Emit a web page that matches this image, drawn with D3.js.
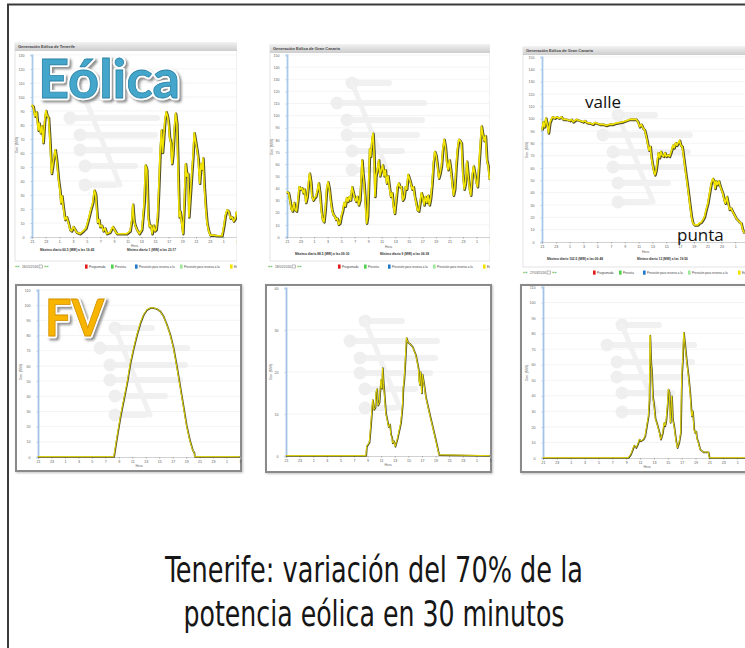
<!DOCTYPE html>
<html><head><meta charset="utf-8">
<script src="https://cdn.jsdelivr.net/npm/d3@7"></script>
<style>html,body{margin:0;padding:0;background:#fff;}svg{display:block;}</style>
</head><body>
<svg id="c" width="745" height="648"></svg>
<script>
// ---------------- DATA ----------------
// hours since 21:00 of the previous day -> clock labels
const hourTickValues = [0,2,4,6,8,10,12,14,16,18,20,22,24,26,28,30];
const hourLabels = ["21","23","1","3","5","7","9","11","13","15","17","19","21","23","1","3"];
const ticks130 = [0,10,20,30,40,50,60,70,80,90,100,110,120,130];
const ticks150 = [0,10,20,30,40,50,60,70,80,90,100,110,120,130,140,150];
const ticks110 = [0,10,20,30,40,50,60,70,80,90,100,110];
const ticks40 = [0,10,20,30,40];
const legendLabels = ["Programada","Prevista","Previsión para reserva a la","Previsión para reserva a la","Eólica real"];
const legendColors = ["#e31a1c","#4fd14f","#1f78c8","#9ee89e","#f3e400"];
const topTitles = ["Generación Eólica de Tenerife","Generación Eólica de Gran Canaria","Generación Eólica de Gran Canaria"];
const topDates = ["26/01/2016","18/01/2016","27/03/2016"];
const maxTexts = [["Máximo diario 60.5 (MW) a las 16:45","Mínimo diario 1 (MW) a las 23:17"],
                  ["Máximo diario 88.5 (MW) a las 09:30","Mínimo diario 9 (MW) a las 06:38"],
                  ["Máximo diario 102.5 (MW) a las 00:48","Mínimo diario 12 (MW) a las 19:56"]];

// wind, Tenerife [hour, MW]
const tenerifeWind = [[0,94],[0.24,93],[0.49,86],[0.73,89],[0.98,76],[1.12,81],[1.32,74],[1.52,79],[1.71,67],[1.91,82],[2.10,90],[2.30,86],[2.49,85],[2.69,69],[2.93,45],[3.08,50],[3.28,57],[3.47,62],[3.67,55],[3.81,48],[3.96,40],[4.16,33],[4.30,24],[4.45,29],[4.65,21],[4.89,12],[5.13,14],[5.38,10],[5.62,5],[5.87,4],[6.11,7],[6.36,5],[6.60,3],[7.09,2],[7.58,4],[7.97,6],[8.31,12],[8.66,19],[8.95,24],[9.19,33],[9.39,30],[9.54,19],[9.68,10],[9.88,12],[10.02,7],[10.27,8],[10.51,4],[10.76,6],[11.00,2],[11.49,3],[11.88,7],[12.13,5],[12.47,2],[12.96,2],[13.45,2],[13.94,2],[14.43,4],[14.67,12],[14.82,23],[15.01,11],[15.16,8],[15.40,5],[15.79,2],[16.14,5],[16.48,24],[16.67,51],[16.87,48],[17.07,14],[17.26,7],[17.46,8],[17.65,2],[17.85,8],[18.04,4],[18.24,5],[18.44,14],[18.63,36],[18.83,62],[19.02,76],[19.17,60],[19.32,69],[19.51,83],[19.71,89],[19.90,86],[20.05,81],[20.20,71],[20.39,67],[20.54,52],[20.68,58],[20.88,76],[21.08,88],[21.27,81],[21.47,43],[21.61,14],[21.76,18],[21.96,10],[22.15,2],[22.35,24],[22.54,52],[22.74,43],[22.89,45],[23.03,14],[23.23,29],[23.42,43],[23.62,57],[23.81,74],[24.01,68],[24.21,62],[24.40,55],[24.60,38],[24.79,52],[24.94,48],[25.09,56],[25.28,36],[25.48,21],[25.67,10],[25.92,4],[26.16,1],[26.65,1],[27.14,0.5],[27.87,0.5],[28.12,7],[28.36,15],[28.61,19],[28.85,18],[29.10,13],[29.34,14],[29.58,11],[29.83,13],[30,18]];
// wind, Gran Canaria
const granCanariaWind = [[0,37],[0.30,36],[0.49,30],[0.69,23],[0.89,21],[1.09,28],[1.28,22],[1.48,21],[1.68,30],[1.87,41],[2.07,39],[2.27,40],[2.47,36],[2.66,39],[2.86,28],[3.06,33],[3.26,45],[3.40,52],[3.60,45],[3.75,33],[3.95,30],[4.14,32],[4.34,33],[4.59,39],[4.74,44],[4.93,36],[5.13,22],[5.33,14],[5.53,12],[5.72,22],[5.92,39],[6.12,45],[6.31,40],[6.51,30],[6.71,22],[6.91,18],[7.10,17],[7.30,14],[7.50,15],[7.70,10],[7.89,11],[8.09,17],[8.29,21],[8.49,28],[8.68,25],[8.88,32],[9.08,29],[9.27,33],[9.47,30],[9.67,41],[9.87,36],[10.06,32],[10.26,29],[10.46,33],[10.66,26],[10.85,30],[11.05,50],[11.15,63],[11.30,52],[11.45,44],[11.64,28],[11.84,11],[11.99,17],[12.14,44],[12.28,72],[12.43,66],[12.63,80],[12.78,85],[12.93,69],[13.07,33],[13.22,50],[13.42,55],[13.62,63],[13.81,50],[14.01,55],[14.21,59],[14.41,50],[14.60,55],[14.80,44],[15.00,50],[15.19,41],[15.39,33],[15.59,36],[15.79,25],[15.98,19],[16.18,30],[16.38,41],[16.58,44],[16.77,41],[16.97,41],[17.17,30],[17.37,32],[17.56,41],[17.76,39],[17.96,51],[18.15,48],[18.35,44],[18.55,39],[18.75,41],[18.94,33],[19.14,28],[19.34,22],[19.54,21],[19.73,28],[19.93,36],[20.13,32],[20.33,26],[20.52,33],[20.72,28],[20.92,34],[21.11,26],[21.31,32],[21.51,44],[21.71,61],[21.90,70],[22.10,67],[22.30,58],[22.50,48],[22.69,52],[22.89,58],[23.09,72],[23.29,80],[23.48,74],[23.68,61],[23.88,55],[24.07,63],[24.27,55],[24.47,44],[24.67,34],[24.86,39],[25.06,58],[25.26,72],[25.46,80],[25.65,79],[25.85,77],[26.05,52],[26.25,39],[26.44,44],[26.64,62],[26.84,50],[27.04,39],[27.23,34],[27.43,50],[27.63,58],[27.82,52],[28.02,45],[28.22,41],[28.42,58],[28.61,74],[28.81,91],[29.01,84],[29.21,79],[29.40,83],[29.60,63],[29.80,58],[30,47]];
// wind, valle / punta day
const valleWind = [[0.10,90.5],[0.24,97],[0.43,93],[0.63,100],[0.82,95],[1.01,88],[1.20,96],[1.40,99],[1.59,101],[1.93,100],[2.17,101],[2.55,100],[2.89,101],[3.13,99],[3.61,99],[4.10,98],[4.35,99],[4.58,97],[5.06,99],[5.54,98],[6.02,97],[6.27,98],[6.51,96.5],[6.99,96],[7.47,95],[7.70,96.5],[7.95,96],[8.43,95],[8.92,95],[9.40,94],[9.88,95],[10.36,95],[10.84,96],[11.33,96.5],[11.81,97],[12.29,98],[12.77,99],[13.25,99],[13.73,99],[13.98,97],[14.22,93],[14.46,95],[14.70,92],[14.94,90.5],[15.18,85],[15.42,78],[15.57,74],[15.76,77],[15.90,69],[16.05,63.5],[16.24,58],[16.43,54],[16.58,57],[16.77,65],[16.92,72],[17.11,68],[17.30,73],[17.49,70],[17.69,69],[17.88,72],[18.07,69],[18.31,70],[18.55,69],[18.80,73],[19.04,78],[19.23,76],[19.42,80],[19.61,78],[19.81,80],[20.00,82],[20.19,78],[20.39,77],[20.58,69],[20.77,61],[20.96,53],[21.16,45],[21.35,36.5],[21.54,28],[21.73,20],[21.93,15],[22.17,13.5],[22.41,13.5],[22.65,13.5],[22.89,15],[23.13,15.5],[23.37,17.5],[23.61,20],[23.86,26],[24.10,31],[24.34,39],[24.58,47],[24.82,51],[25.01,49],[25.16,43],[25.30,49],[25.49,46],[25.69,49],[25.88,45],[26.07,42],[26.27,39],[26.46,34],[26.65,31],[26.84,36.5],[27.04,31],[27.23,26],[27.47,27],[27.71,24],[27.95,21.5],[28.19,19],[28.43,17.5],[28.67,16],[28.92,15],[29.16,9.5],[29.40,7]];
// photovoltaic
const tenerifeFV = [[0,0],[11.30,0],[11.79,13.6],[12.29,26.8],[12.78,37.7],[13.27,48.7],[13.76,61.8],[14.25,71.7],[14.74,80.5],[15.23,88.0],[15.72,93.6],[16.22,96.9],[16.71,98.0],[17.20,98.0],[17.69,97.4],[18.18,95.8],[18.67,92.5],[19.16,87.1],[19.66,80.5],[20.15,71.7],[20.64,59.6],[21.13,46.5],[21.62,33.3],[22.11,20.2],[22.60,10.5],[23.00,4.4],[23.24,2.6],[23.30,0],[30,0]];
const granCanariaFV = [[0,0],[11.80,0],[11.90,2.2],[12.29,3.2],[12.39,5],[12.54,7.9],[12.78,13.3],[12.98,11],[13.17,11.5],[13.27,15],[13.41,15.9],[13.56,12],[13.76,12.7],[13.90,16],[14.00,18.1],[14.15,16],[14.24,20.9],[14.39,17],[14.49,14.9],[14.73,10],[14.93,8.5],[15.12,6.9],[15.32,7.5],[15.46,5],[15.61,4.5],[15.71,3],[15.90,3.5],[16.10,2.2],[16.44,4.2],[16.93,7.9],[17.17,12],[17.27,16.1],[17.41,18],[17.56,22.1],[17.76,28.1],[17.95,27],[18.15,26.8],[18.63,26],[19.12,24],[19.37,22],[19.51,20.8],[19.61,18],[19.71,16.9],[19.80,20],[19.90,18],[20.00,14.9],[20.10,19.4],[20.34,17],[20.59,14],[21.32,8.8],[22.05,3.8],[22.54,0.2],[30,0]];
const thirdFV = [[0,0],[12.36,0],[12.69,2.1],[12.98,5.4],[13.17,7.9],[13.46,6.4],[13.70,8.6],[13.94,11.8],[14.13,10.7],[14.52,11.8],[14.76,13.9],[15.00,20.4],[15.24,26.8],[15.38,37.5],[15.48,78.7],[15.63,60],[15.72,56.9],[15.87,39.7],[16.06,33.3],[16.25,25],[16.44,22.5],[16.83,16.1],[17.02,11.8],[17.31,16.1],[17.50,22.5],[17.64,20.4],[17.79,23.6],[17.98,33.3],[18.12,44],[18.27,41.8],[18.41,22.5],[18.61,39.7],[18.75,24.7],[18.94,20.4],[19.23,10.7],[19.42,6.4],[19.66,9.7],[19.90,16.1],[20.05,52.6],[20.19,63.3],[20.34,80.5],[20.53,72.3],[20.77,61.6],[21.01,52.8],[21.25,41.8],[21.49,26.8],[21.63,30],[21.83,18.2],[21.97,16.1],[22.12,17],[22.21,12.9],[22.45,9.7],[22.69,5.4],[23.17,3.6],[23.89,3.6],[24.04,0],[30,0]];

// ---------------- LAYOUT ----------------
const topPanels = [
  {box:[15,43,222,218], left:32, right:237, top:55, bottom:237, yMax:130, yTicks:ticks130, data:tenerifeWind, legendX:15, legendY:267, maxX:[40,127], maxY:251, horaY:247, wm:[110,140], ylab:[18,145]},
  {box:[270,45,220,216], left:287, right:490, top:55, bottom:237, yMax:150, yTicks:ticks150, data:granCanariaWind, legendX:268, legendY:267, maxX:[295,380], maxY:255, horaY:248, wm:[377,125], ylab:[273,147]},
  {box:[523,47,232,220], left:542, right:749, top:57, bottom:242, yMax:150, yTicks:ticks150, data:valleWind, legendX:523, legendY:273, maxX:[547,637], maxY:260, horaY:253, wm:[643,157], ylab:[528,150]}
];
const botPanels = [
  {box:[16,285,225,186], left:38, right:240, top:290, bottom:457, yMax:110, yTicks:ticks110, data:tenerifeFV, horaY:467, wm:[140,370], ylab:[22,372]},
  {box:[266,285,225,187], left:286, right:490, top:288, bottom:456, yMax:40, yTicks:ticks40, data:granCanariaFV, horaY:466, wm:[390,363], ylab:[272,372]},
  {box:[521,285,234,187], left:543, right:751, top:287, bottom:458, yMax:110, yTicks:ticks110, data:thirdFV, horaY:468, wm:[647,367], ylab:[528,373]}
];

const svg = d3.select('#c');
const defs = svg.append('defs');
const grad = defs.append('linearGradient').attr('id','hdr').attr('x1',0).attr('y1',0).attr('x2',0).attr('y2',1);
grad.append('stop').attr('offset','0%').attr('stop-color','#eeeeee');
grad.append('stop').attr('offset','100%').attr('stop-color','#cdcdcd');
const flt = defs.append('filter').attr('id','shadow').attr('x','-20%').attr('y','-20%').attr('width','150%').attr('height','150%');
flt.append('feDropShadow').attr('dx',2.2).attr('dy',2.2).attr('stdDeviation',1.3).attr('flood-color','#555').attr('flood-opacity',0.65);
const bflt = defs.append('filter').attr('id','bshadow').attr('x','-5%').attr('y','-5%').attr('width','110%').attr('height','110%');
bflt.append('feDropShadow').attr('dx',1).attr('dy',1).attr('stdDeviation',0.8).attr('flood-color','#999').attr('flood-opacity',0.6);

const tiny = "Liberation Sans, Arial, sans-serif";

function watermark(g, cx, cy){
  const w = g.append('g').attr('transform',`translate(${cx},${cy})`).attr('opacity',0.55);
  const bars = [[-25,-42,12],[-40,-22,47],[-30,-5,45],[-30,10,40],[-25,26,25],[-25,45,5]];
  bars.forEach(b=>{
    w.append('line').attr('x1',b[0]).attr('y1',b[1]).attr('x2',b[2]).attr('y2',b[1]).attr('stroke','#e6e6e6').attr('stroke-width',6).attr('stroke-linecap','round');
    w.append('circle').attr('cx',b[0]).attr('cy',b[1]).attr('r',6.5).attr('fill','#e2e2e2');
  });
  w.append('line').attr('x1',-25).attr('y1',-42).attr('x2',10).attr('y2',45).attr('stroke','#e6e6e6').attr('stroke-width',5).attr('stroke-linecap','round');
}

function series(g, data, x, y, wd, wl, off){
  const line = d3.line().x(d=>x(d[0])).y(d=>y(d[1]));
  g.append('path').datum(data).attr('d',line).attr('fill','none').attr('stroke','#3c3a12').attr('stroke-width',wd).attr('stroke-linejoin','round').attr('opacity',0.9);
  g.append('path').datum(data).attr('d',line).attr('fill','none').attr('stroke','#f2e400').attr('stroke-width',wl).attr('stroke-linejoin','round').attr('transform',`translate(${-off},${-off})`);
}

function axes(g, p, x, y, blue){
  g.append('g').selectAll('line').data(p.yTicks.slice(1)).join('line')
    .attr('x1',p.left).attr('x2',p.right).attr('y1',d=>y(d)).attr('y2',d=>y(d))
    .attr('stroke','#ececec').attr('stroke-width',0.6);
  const ya = g.append('g').attr('transform',`translate(${p.left},0)`)
    .call(d3.axisLeft(y).tickValues(p.yTicks).tickSize(1.5).tickPadding(6));
  ya.select('.domain').attr('stroke',blue).attr('stroke-width',1.8);
  ya.selectAll('.tick line').attr('stroke','#b8cfe8');
  ya.selectAll('text').attr('font-size','3.6px').attr('font-family',tiny).attr('fill','#666');
  const xa = g.append('g').attr('transform',`translate(0,${p.bottom})`)
    .call(d3.axisBottom(x).tickValues(hourTickValues).tickFormat((d,i)=>hourLabels[i]).tickSize(1.5).tickPadding(2));
  xa.select('.domain').attr('stroke','#c7c7c7').attr('stroke-width',0.8);
  xa.selectAll('.tick line').attr('stroke','#aaa');
  xa.selectAll('text').attr('font-size','3.6px').attr('font-family',tiny).attr('fill','#555');
  g.append('text').attr('x',(p.left+p.right)/2).attr('y',p.horaY).attr('text-anchor','middle')
    .attr('font-size','3.3px').attr('font-family',tiny).attr('fill','#666').text('Hora');
  g.append('text').attr('transform',`translate(${p.ylab[0]},${p.ylab[1]}) rotate(-90)`).attr('text-anchor','middle')
    .attr('font-size','3.3px').attr('font-family',tiny).attr('fill','#666').text('Gen. (MW)');
}

// frame
svg.append('rect').attr('x',8).attr('y',4.5).attr('width',770).attr('height',680)
  .attr('fill','none').attr('stroke','#3a3a3a').attr('stroke-width',2);

// top panels
topPanels.forEach((p,i)=>{
  const cid = 'clipTop'+i;
  defs.append('clipPath').attr('id',cid).append('rect').attr('x',p.box[0]-3).attr('y',p.box[1]-3).attr('width',p.box[2]+3).attr('height',245);
  const g = svg.append('g').attr('clip-path',`url(#${cid})`);
  g.append('rect').attr('x',p.box[0]).attr('y',p.box[1]).attr('width',p.box[2]).attr('height',p.box[3])
    .attr('fill','#fff').attr('stroke','#dcdcdc').attr('stroke-width',0.8);
  g.append('rect').attr('x',p.box[0]).attr('y',p.box[1]).attr('width',p.box[2]).attr('height',8).attr('fill','url(#hdr)');
  g.append('text').attr('x',p.box[0]+3).attr('y',p.box[1]+5.4).attr('font-size','4px').attr('font-weight','bold')
    .attr('font-family',tiny).attr('fill','#444').text(topTitles[i]);
  const x = d3.scaleLinear().domain([0,30]).range([p.left,p.right]);
  const y = d3.scaleLinear().domain([0,p.yMax]).range([p.bottom,p.top]);
  watermark(g, p.wm[0], p.wm[1]);
  axes(g, p, x, y, '#a9c9ea');
  series(g, p.data, x, y, 2.6, 1.6, 0.5);
  maxTexts[i].forEach((t,k)=>g.append('text').attr('x',p.maxX[k]).attr('y',p.maxY).attr('font-size','3.2px')
    .attr('font-weight','bold').attr('font-family',tiny).attr('fill','#333').text(t));
  const lg = g.append('g').attr('transform',`translate(${p.legendX},${p.legendY})`);
  lg.append('text').attr('x',0).attr('y',1).attr('font-size','4px').attr('font-weight','bold').attr('fill','#3fae3f').attr('font-family',tiny).text('««');
  lg.append('text').attr('x',7).attr('y',0.5).attr('font-size','3.2px').attr('fill','#555').attr('font-family',tiny).text(topDates[i]);
  lg.append('rect').attr('x',24).attr('y',-2).attr('width',3.5).attr('height',3).attr('fill','none').attr('stroke','#777').attr('stroke-width',0.5);
  lg.append('text').attr('x',29).attr('y',1).attr('font-size','4px').attr('font-weight','bold').attr('fill','#3fae3f').attr('font-family',tiny).text('»»');
  const offs = [70,96,120,165,215];
  legendLabels.forEach((l,k)=>{
    lg.append('rect').attr('x',offs[k]).attr('y',-2.5).attr('width',2.6).attr('height',4.2).attr('fill',legendColors[k]);
    lg.append('text').attr('x',offs[k]+4).attr('y',0.8).attr('font-size','3px').attr('font-family',tiny).attr('fill','#444').text(l);
  });
});

// bottom panels
botPanels.forEach((p,i)=>{
  const g = svg.append('g');
  g.append('rect').attr('x',p.box[0]).attr('y',p.box[1]).attr('width',p.box[2]).attr('height',p.box[3])
    .attr('fill','#fff').attr('stroke','#8a8a8a').attr('stroke-width',2).attr('filter','url(#bshadow)');
  const x = d3.scaleLinear().domain([0,30]).range([p.left,p.right]);
  const y = d3.scaleLinear().domain([0,p.yMax]).range([p.bottom,p.top]);
  watermark(g, p.wm[0], p.wm[1]);
  axes(g, p, x, y, '#a3c2e6');
  series(g, p.data, x, y, 1.7, 0.9, 0.35);
});

// big labels
function bigLabel(txt, x, y, size, fill, edge, len){
  svg.append('text').attr('x',x).attr('y',y).attr('font-family','Lato, Open Sans, sans-serif').attr('font-weight','bold')
    .attr('font-size',size+'px').attr('fill','#fff').attr('stroke','#fff').attr('stroke-width',4.5)
    .attr('stroke-linejoin','round').attr('filter','url(#shadow)').attr('textLength',len).attr('lengthAdjust','spacingAndGlyphs').text(txt);
  svg.append('text').attr('x',x).attr('y',y).attr('font-family','Lato, Open Sans, sans-serif').attr('font-weight','bold')
    .attr('font-size',size+'px').attr('fill',fill).attr('stroke',edge).attr('stroke-width',0.8).attr('textLength',len).attr('lengthAdjust','spacingAndGlyphs').text(txt);
}
bigLabel('Eólica', 38, 98, 53, '#43a6ca', '#2b83a6', 142);
bigLabel('FV', 45, 336, 52, '#f7b500', '#d18f00', 59);

// annotations
svg.append('text').attr('x',585).attr('y',108).attr('font-family','Open Sans, sans-serif').attr('font-size','17px').attr('fill','#111').text('valle');
svg.append('text').attr('x',677).attr('y',241).attr('font-family','Open Sans, sans-serif').attr('font-size','17px').attr('fill','#111').text('punta');

// caption
const cap = ["Tenerife: variación del 70% de la","potencia eólica en 30 minutos"];
const capW = [418, 381];
const capY = [582, 626];
cap.forEach((t,k)=>svg.append('text').attr('x',374).attr('y',capY[k]).attr('text-anchor','middle')
  .attr('font-family','Liberation Sans Narrow, DejaVu Sans Condensed, Arial Narrow, sans-serif')
  .attr('font-size','35px').attr('fill','#161616').attr('textLength',capW[k]).attr('lengthAdjust','spacingAndGlyphs').text(t));
</script>
</body></html>
